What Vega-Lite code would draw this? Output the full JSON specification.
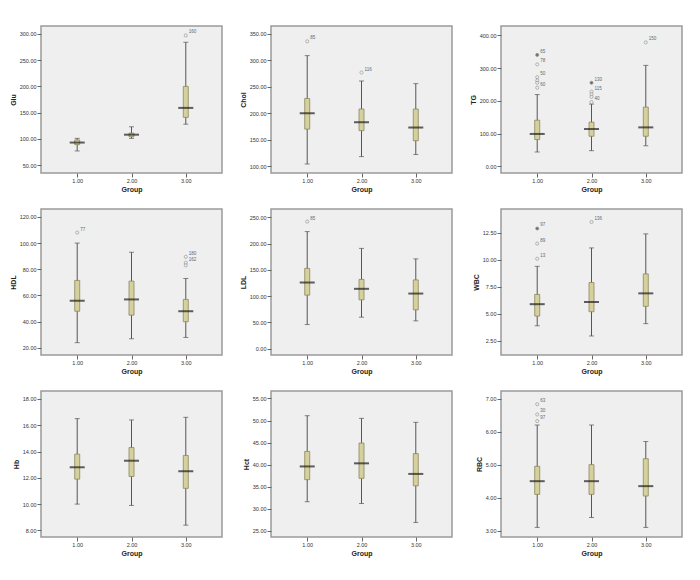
{
"$schema":"https://vega.github.io/schema/vega-lite/v6.json",
"padding":{"left":8,"top":25,"right":5,"bottom":5},
"background":"white",
"config":{"font":"Liberation Sans","view":{"stroke":"#9a9a9a","strokeWidth":1.5,"fill":"#efefef"},
"axis":{"labelFontSize":5.5,"labelColor":"#333","titleFontSize":7,"titleFontWeight":"bold","titleColor":"#222","tickColor":"#666","tickSize":4,"domain":false,"grid":false,"labelPadding":1,"titlePadding":3,"labelOverlap":false,"labelFlush":false,"labelBound":false,"tickCount":12},
"axisX":{"labelAngle":0,"titlePadding":2}},
"datasets":{
"s":[
{"v":"Glu","g":"1.00","lo":77,"q1":89,"med":93,"q3":98,"hi":101},
{"v":"Glu","g":"2.00","lo":101,"q1":104,"med":108,"q3":111,"hi":123},
{"v":"Glu","g":"3.00","lo":128,"q1":141,"med":159,"q3":200,"hi":284},
{"v":"Chol","g":"1.00","lo":104,"q1":170,"med":200,"q3":228,"hi":309},
{"v":"Chol","g":"2.00","lo":118,"q1":167,"med":183,"q3":208,"hi":261},
{"v":"Chol","g":"3.00","lo":122,"q1":148,"med":173,"q3":208,"hi":256},
{"v":"TG","g":"1.00","lo":44,"q1":82,"med":99,"q3":141,"hi":219},
{"v":"TG","g":"2.00","lo":48,"q1":92,"med":114,"q3":135,"hi":190},
{"v":"TG","g":"3.00","lo":63,"q1":92,"med":119,"q3":181,"hi":308},
{"v":"HDL","g":"1.00","lo":24,"q1":48,"med":56,"q3":71.5,"hi":100},
{"v":"HDL","g":"2.00","lo":27,"q1":45,"med":57,"q3":71,"hi":93},
{"v":"HDL","g":"3.00","lo":28,"q1":40,"med":48,"q3":57,"hi":73},
{"v":"LDL","g":"1.00","lo":46,"q1":102,"med":126,"q3":153,"hi":223},
{"v":"LDL","g":"2.00","lo":60,"q1":93,"med":114,"q3":132,"hi":191},
{"v":"LDL","g":"3.00","lo":53,"q1":74,"med":105,"q3":131,"hi":171},
{"v":"WBC","g":"1.00","lo":3.9,"q1":4.8,"med":5.9,"q3":6.8,"hi":9.4},
{"v":"WBC","g":"2.00","lo":2.96,"q1":5.2,"med":6.1,"q3":7.9,"hi":11.1},
{"v":"WBC","g":"3.00","lo":4.1,"q1":5.7,"med":6.9,"q3":8.7,"hi":12.4},
{"v":"Hb","g":"1.00","lo":10.0,"q1":11.9,"med":12.8,"q3":13.8,"hi":16.5},
{"v":"Hb","g":"2.00","lo":9.9,"q1":12.1,"med":13.3,"q3":14.3,"hi":16.4},
{"v":"Hb","g":"3.00","lo":8.4,"q1":11.2,"med":12.5,"q3":13.7,"hi":16.6},
{"v":"Hct","g":"1.00","lo":31.6,"q1":36.6,"med":39.6,"q3":43.0,"hi":51.1},
{"v":"Hct","g":"2.00","lo":31.2,"q1":36.9,"med":40.3,"q3":44.9,"hi":50.5},
{"v":"Hct","g":"3.00","lo":26.9,"q1":35.2,"med":37.9,"q3":42.5,"hi":49.6},
{"v":"RBC","g":"1.00","lo":3.1,"q1":4.1,"med":4.5,"q3":4.95,"hi":6.2},
{"v":"RBC","g":"2.00","lo":3.4,"q1":4.1,"med":4.5,"q3":5.0,"hi":6.2},
{"v":"RBC","g":"3.00","lo":3.1,"q1":4.05,"med":4.35,"q3":5.18,"hi":5.7}
],
"o":[
{"v":"Glu","g":"3.00","y":297,"lab":"160","e":0},
{"v":"Chol","g":"1.00","y":336,"lab":"85","e":0},
{"v":"Chol","g":"2.00","y":277,"lab":"116","e":0},
{"v":"TG","g":"1.00","y":340,"lab":"65","e":1},
{"v":"TG","g":"1.00","y":311,"lab":"78","e":0},
{"v":"TG","g":"1.00","y":272,"lab":"50","e":0},
{"v":"TG","g":"1.00","y":262,"lab":"","e":0},
{"v":"TG","g":"1.00","y":255,"lab":"","e":0},
{"v":"TG","g":"1.00","y":240,"lab":"60","e":0},
{"v":"TG","g":"2.00","y":255,"lab":"130","e":1},
{"v":"TG","g":"2.00","y":228,"lab":"115","e":0},
{"v":"TG","g":"2.00","y":220,"lab":"","e":0},
{"v":"TG","g":"2.00","y":212,"lab":"","e":0},
{"v":"TG","g":"2.00","y":196,"lab":"40","e":0},
{"v":"TG","g":"3.00","y":378,"lab":"150","e":0},
{"v":"HDL","g":"1.00","y":108,"lab":"77","e":0},
{"v":"HDL","g":"3.00","y":89.5,"lab":"180","e":0},
{"v":"HDL","g":"3.00","y":85,"lab":"162","e":0},
{"v":"HDL","g":"3.00","y":83,"lab":"","e":0},
{"v":"LDL","g":"1.00","y":242,"lab":"85","e":0},
{"v":"WBC","g":"1.00","y":12.9,"lab":"97","e":1},
{"v":"WBC","g":"1.00","y":11.5,"lab":"89","e":0},
{"v":"WBC","g":"1.00","y":10.1,"lab":"13","e":0},
{"v":"WBC","g":"2.00","y":13.5,"lab":"136","e":0},
{"v":"RBC","g":"1.00","y":6.83,"lab":"63","e":0},
{"v":"RBC","g":"1.00","y":6.52,"lab":"30","e":0},
{"v":"RBC","g":"1.00","y":6.32,"lab":"97","e":0}
]},
"columns":3,
"spacing":{"row":14,"column":15},
"concat":[
{"width":181,"height":147,"layer":[
{"data":{"name":"s"},"transform":[{"filter":"datum.v=='Glu'"}],"mark":{"type":"rule","color":"#555"},"encoding":{"x":{"field":"g","type":"ordinal","scale":{"type":"point","padding":0.667,"domain":["1.00","2.00","3.00"]},"title":"Group"},"y":{"field":"lo","type":"quantitative","scale":{"domain":[35,315],"nice":false,"zero":false},"axis":{"values":[50,100,150,200,250,300],"format":".2f","tickCount":12},"title":"Glu"},"y2":{"field":"hi"}}},
{"data":{"name":"s"},"transform":[{"filter":"datum.v=='Glu'"},{"fold":["lo","hi"],"as":["k","c"]}],"mark":{"type":"tick","size":5,"thickness":1,"color":"#555"},"encoding":{"x":{"field":"g","type":"ordinal","title":"Group"},"y":{"field":"c","type":"quantitative","title":"Glu"}}},
{"data":{"name":"s"},"transform":[{"filter":"datum.v=='Glu'"}],"mark":{"type":"bar","size":5,"fill":"#d6d09c","stroke":"#8a8760","strokeWidth":0.8},"encoding":{"x":{"field":"g","type":"ordinal","title":"Group"},"y":{"field":"q1","type":"quantitative","title":"Glu"},"y2":{"field":"q3"}}},
{"data":{"name":"s"},"transform":[{"filter":"datum.v=='Glu'"}],"mark":{"type":"tick","size":15,"thickness":2,"color":"#1e1e1e"},"encoding":{"x":{"field":"g","type":"ordinal","title":"Group"},"y":{"field":"med","type":"quantitative","title":"Glu"}}},
{"data":{"name":"o"},"transform":[{"filter":"datum.v=='Glu'"}],"mark":{"type":"point","shape":"circle","size":10,"filled":true,"stroke":"#777","strokeWidth":0.7},"encoding":{"x":{"field":"g","type":"ordinal","title":"Group"},"y":{"field":"y","type":"quantitative","title":"Glu"},"fill":{"condition":{"test":"datum.e==1","value":"#333"},"value":"#f0f0f0"}}},
{"data":{"name":"o"},"transform":[{"filter":"datum.v=='Glu'"}],"mark":{"type":"text","align":"left","dx":3,"dy":-3,"fontSize":4.5,"color":"#666"},"encoding":{"x":{"field":"g","type":"ordinal","title":"Group"},"y":{"field":"y","type":"quantitative","title":"Glu"},"text":{"field":"lab"}}}
]},
{"width":181,"height":147,"layer":[
{"data":{"name":"s"},"transform":[{"filter":"datum.v=='Chol'"}],"mark":{"type":"rule","color":"#555"},"encoding":{"x":{"field":"g","type":"ordinal","scale":{"type":"point","padding":0.667,"domain":["1.00","2.00","3.00"]},"title":"Group"},"y":{"field":"lo","type":"quantitative","scale":{"domain":[87,365],"nice":false,"zero":false},"axis":{"values":[100,150,200,250,300,350],"format":".2f","tickCount":12},"title":"Chol"},"y2":{"field":"hi"}}},
{"data":{"name":"s"},"transform":[{"filter":"datum.v=='Chol'"},{"fold":["lo","hi"],"as":["k","c"]}],"mark":{"type":"tick","size":5,"thickness":1,"color":"#555"},"encoding":{"x":{"field":"g","type":"ordinal","title":"Group"},"y":{"field":"c","type":"quantitative","title":"Chol"}}},
{"data":{"name":"s"},"transform":[{"filter":"datum.v=='Chol'"}],"mark":{"type":"bar","size":5,"fill":"#d6d09c","stroke":"#8a8760","strokeWidth":0.8},"encoding":{"x":{"field":"g","type":"ordinal","title":"Group"},"y":{"field":"q1","type":"quantitative","title":"Chol"},"y2":{"field":"q3"}}},
{"data":{"name":"s"},"transform":[{"filter":"datum.v=='Chol'"}],"mark":{"type":"tick","size":15,"thickness":2,"color":"#1e1e1e"},"encoding":{"x":{"field":"g","type":"ordinal","title":"Group"},"y":{"field":"med","type":"quantitative","title":"Chol"}}},
{"data":{"name":"o"},"transform":[{"filter":"datum.v=='Chol'"}],"mark":{"type":"point","shape":"circle","size":10,"filled":true,"stroke":"#777","strokeWidth":0.7},"encoding":{"x":{"field":"g","type":"ordinal","title":"Group"},"y":{"field":"y","type":"quantitative","title":"Chol"},"fill":{"condition":{"test":"datum.e==1","value":"#333"},"value":"#f0f0f0"}}},
{"data":{"name":"o"},"transform":[{"filter":"datum.v=='Chol'"}],"mark":{"type":"text","align":"left","dx":3,"dy":-3,"fontSize":4.5,"color":"#666"},"encoding":{"x":{"field":"g","type":"ordinal","title":"Group"},"y":{"field":"y","type":"quantitative","title":"Chol"},"text":{"field":"lab"}}}
]},
{"width":181,"height":147,"layer":[
{"data":{"name":"s"},"transform":[{"filter":"datum.v=='TG'"}],"mark":{"type":"rule","color":"#555"},"encoding":{"x":{"field":"g","type":"ordinal","scale":{"type":"point","padding":0.667,"domain":["1.00","2.00","3.00"]},"title":"Group"},"y":{"field":"lo","type":"quantitative","scale":{"domain":[-20,428],"nice":false,"zero":false},"axis":{"values":[0,100,200,300,400],"format":".2f","tickCount":12},"title":"TG"},"y2":{"field":"hi"}}},
{"data":{"name":"s"},"transform":[{"filter":"datum.v=='TG'"},{"fold":["lo","hi"],"as":["k","c"]}],"mark":{"type":"tick","size":5,"thickness":1,"color":"#555"},"encoding":{"x":{"field":"g","type":"ordinal","title":"Group"},"y":{"field":"c","type":"quantitative","title":"TG"}}},
{"data":{"name":"s"},"transform":[{"filter":"datum.v=='TG'"}],"mark":{"type":"bar","size":5,"fill":"#d6d09c","stroke":"#8a8760","strokeWidth":0.8},"encoding":{"x":{"field":"g","type":"ordinal","title":"Group"},"y":{"field":"q1","type":"quantitative","title":"TG"},"y2":{"field":"q3"}}},
{"data":{"name":"s"},"transform":[{"filter":"datum.v=='TG'"}],"mark":{"type":"tick","size":15,"thickness":2,"color":"#1e1e1e"},"encoding":{"x":{"field":"g","type":"ordinal","title":"Group"},"y":{"field":"med","type":"quantitative","title":"TG"}}},
{"data":{"name":"o"},"transform":[{"filter":"datum.v=='TG'"}],"mark":{"type":"point","shape":"circle","size":10,"filled":true,"stroke":"#777","strokeWidth":0.7},"encoding":{"x":{"field":"g","type":"ordinal","title":"Group"},"y":{"field":"y","type":"quantitative","title":"TG"},"fill":{"condition":{"test":"datum.e==1","value":"#333"},"value":"#f0f0f0"}}},
{"data":{"name":"o"},"transform":[{"filter":"datum.v=='TG'"}],"mark":{"type":"text","align":"left","dx":3,"dy":-3,"fontSize":4.5,"color":"#666"},"encoding":{"x":{"field":"g","type":"ordinal","title":"Group"},"y":{"field":"y","type":"quantitative","title":"TG"},"text":{"field":"lab"}}}
]},
{"width":181,"height":146,"layer":[
{"data":{"name":"s"},"transform":[{"filter":"datum.v=='HDL'"}],"mark":{"type":"rule","color":"#555"},"encoding":{"x":{"field":"g","type":"ordinal","scale":{"type":"point","padding":0.667,"domain":["1.00","2.00","3.00"]},"title":"Group"},"y":{"field":"lo","type":"quantitative","scale":{"domain":[14.6,126],"nice":false,"zero":false},"axis":{"values":[20,40,60,80,100,120],"format":".2f","tickCount":12},"title":"HDL"},"y2":{"field":"hi"}}},
{"data":{"name":"s"},"transform":[{"filter":"datum.v=='HDL'"},{"fold":["lo","hi"],"as":["k","c"]}],"mark":{"type":"tick","size":5,"thickness":1,"color":"#555"},"encoding":{"x":{"field":"g","type":"ordinal","title":"Group"},"y":{"field":"c","type":"quantitative","title":"HDL"}}},
{"data":{"name":"s"},"transform":[{"filter":"datum.v=='HDL'"}],"mark":{"type":"bar","size":5,"fill":"#d6d09c","stroke":"#8a8760","strokeWidth":0.8},"encoding":{"x":{"field":"g","type":"ordinal","title":"Group"},"y":{"field":"q1","type":"quantitative","title":"HDL"},"y2":{"field":"q3"}}},
{"data":{"name":"s"},"transform":[{"filter":"datum.v=='HDL'"}],"mark":{"type":"tick","size":15,"thickness":2,"color":"#1e1e1e"},"encoding":{"x":{"field":"g","type":"ordinal","title":"Group"},"y":{"field":"med","type":"quantitative","title":"HDL"}}},
{"data":{"name":"o"},"transform":[{"filter":"datum.v=='HDL'"}],"mark":{"type":"point","shape":"circle","size":10,"filled":true,"stroke":"#777","strokeWidth":0.7},"encoding":{"x":{"field":"g","type":"ordinal","title":"Group"},"y":{"field":"y","type":"quantitative","title":"HDL"},"fill":{"condition":{"test":"datum.e==1","value":"#333"},"value":"#f0f0f0"}}},
{"data":{"name":"o"},"transform":[{"filter":"datum.v=='HDL'"}],"mark":{"type":"text","align":"left","dx":3,"dy":-3,"fontSize":4.5,"color":"#666"},"encoding":{"x":{"field":"g","type":"ordinal","title":"Group"},"y":{"field":"y","type":"quantitative","title":"HDL"},"text":{"field":"lab"}}}
]},
{"width":181,"height":146,"layer":[
{"data":{"name":"s"},"transform":[{"filter":"datum.v=='LDL'"}],"mark":{"type":"rule","color":"#555"},"encoding":{"x":{"field":"g","type":"ordinal","scale":{"type":"point","padding":0.667,"domain":["1.00","2.00","3.00"]},"title":"Group"},"y":{"field":"lo","type":"quantitative","scale":{"domain":[-12,266],"nice":false,"zero":false},"axis":{"values":[0,50,100,150,200,250],"format":".2f","tickCount":12},"title":"LDL"},"y2":{"field":"hi"}}},
{"data":{"name":"s"},"transform":[{"filter":"datum.v=='LDL'"},{"fold":["lo","hi"],"as":["k","c"]}],"mark":{"type":"tick","size":5,"thickness":1,"color":"#555"},"encoding":{"x":{"field":"g","type":"ordinal","title":"Group"},"y":{"field":"c","type":"quantitative","title":"LDL"}}},
{"data":{"name":"s"},"transform":[{"filter":"datum.v=='LDL'"}],"mark":{"type":"bar","size":5,"fill":"#d6d09c","stroke":"#8a8760","strokeWidth":0.8},"encoding":{"x":{"field":"g","type":"ordinal","title":"Group"},"y":{"field":"q1","type":"quantitative","title":"LDL"},"y2":{"field":"q3"}}},
{"data":{"name":"s"},"transform":[{"filter":"datum.v=='LDL'"}],"mark":{"type":"tick","size":15,"thickness":2,"color":"#1e1e1e"},"encoding":{"x":{"field":"g","type":"ordinal","title":"Group"},"y":{"field":"med","type":"quantitative","title":"LDL"}}},
{"data":{"name":"o"},"transform":[{"filter":"datum.v=='LDL'"}],"mark":{"type":"point","shape":"circle","size":10,"filled":true,"stroke":"#777","strokeWidth":0.7},"encoding":{"x":{"field":"g","type":"ordinal","title":"Group"},"y":{"field":"y","type":"quantitative","title":"LDL"},"fill":{"condition":{"test":"datum.e==1","value":"#333"},"value":"#f0f0f0"}}},
{"data":{"name":"o"},"transform":[{"filter":"datum.v=='LDL'"}],"mark":{"type":"text","align":"left","dx":3,"dy":-3,"fontSize":4.5,"color":"#666"},"encoding":{"x":{"field":"g","type":"ordinal","title":"Group"},"y":{"field":"y","type":"quantitative","title":"LDL"},"text":{"field":"lab"}}}
]},
{"width":181,"height":146,"layer":[
{"data":{"name":"s"},"transform":[{"filter":"datum.v=='WBC'"}],"mark":{"type":"rule","color":"#555"},"encoding":{"x":{"field":"g","type":"ordinal","scale":{"type":"point","padding":0.667,"domain":["1.00","2.00","3.00"]},"title":"Group"},"y":{"field":"lo","type":"quantitative","scale":{"domain":[1.2,14.7],"nice":false,"zero":false},"axis":{"values":[2.5,5,7.5,10,12.5],"format":".2f","tickCount":12},"title":"WBC"},"y2":{"field":"hi"}}},
{"data":{"name":"s"},"transform":[{"filter":"datum.v=='WBC'"},{"fold":["lo","hi"],"as":["k","c"]}],"mark":{"type":"tick","size":5,"thickness":1,"color":"#555"},"encoding":{"x":{"field":"g","type":"ordinal","title":"Group"},"y":{"field":"c","type":"quantitative","title":"WBC"}}},
{"data":{"name":"s"},"transform":[{"filter":"datum.v=='WBC'"}],"mark":{"type":"bar","size":5,"fill":"#d6d09c","stroke":"#8a8760","strokeWidth":0.8},"encoding":{"x":{"field":"g","type":"ordinal","title":"Group"},"y":{"field":"q1","type":"quantitative","title":"WBC"},"y2":{"field":"q3"}}},
{"data":{"name":"s"},"transform":[{"filter":"datum.v=='WBC'"}],"mark":{"type":"tick","size":15,"thickness":2,"color":"#1e1e1e"},"encoding":{"x":{"field":"g","type":"ordinal","title":"Group"},"y":{"field":"med","type":"quantitative","title":"WBC"}}},
{"data":{"name":"o"},"transform":[{"filter":"datum.v=='WBC'"}],"mark":{"type":"point","shape":"circle","size":10,"filled":true,"stroke":"#777","strokeWidth":0.7},"encoding":{"x":{"field":"g","type":"ordinal","title":"Group"},"y":{"field":"y","type":"quantitative","title":"WBC"},"fill":{"condition":{"test":"datum.e==1","value":"#333"},"value":"#f0f0f0"}}},
{"data":{"name":"o"},"transform":[{"filter":"datum.v=='WBC'"}],"mark":{"type":"text","align":"left","dx":3,"dy":-3,"fontSize":4.5,"color":"#666"},"encoding":{"x":{"field":"g","type":"ordinal","title":"Group"},"y":{"field":"y","type":"quantitative","title":"WBC"},"text":{"field":"lab"}}}
]},
{"width":181,"height":146,"layer":[
{"data":{"name":"s"},"transform":[{"filter":"datum.v=='Hb'"}],"mark":{"type":"rule","color":"#555"},"encoding":{"x":{"field":"g","type":"ordinal","scale":{"type":"point","padding":0.667,"domain":["1.00","2.00","3.00"]},"title":"Group"},"y":{"field":"lo","type":"quantitative","scale":{"domain":[7.5,18.6],"nice":false,"zero":false},"axis":{"values":[8,10,12,14,16,18],"format":".2f","tickCount":12},"title":"Hb"},"y2":{"field":"hi"}}},
{"data":{"name":"s"},"transform":[{"filter":"datum.v=='Hb'"},{"fold":["lo","hi"],"as":["k","c"]}],"mark":{"type":"tick","size":5,"thickness":1,"color":"#555"},"encoding":{"x":{"field":"g","type":"ordinal","title":"Group"},"y":{"field":"c","type":"quantitative","title":"Hb"}}},
{"data":{"name":"s"},"transform":[{"filter":"datum.v=='Hb'"}],"mark":{"type":"bar","size":5,"fill":"#d6d09c","stroke":"#8a8760","strokeWidth":0.8},"encoding":{"x":{"field":"g","type":"ordinal","title":"Group"},"y":{"field":"q1","type":"quantitative","title":"Hb"},"y2":{"field":"q3"}}},
{"data":{"name":"s"},"transform":[{"filter":"datum.v=='Hb'"}],"mark":{"type":"tick","size":15,"thickness":2,"color":"#1e1e1e"},"encoding":{"x":{"field":"g","type":"ordinal","title":"Group"},"y":{"field":"med","type":"quantitative","title":"Hb"}}}
]},
{"width":181,"height":146,"layer":[
{"data":{"name":"s"},"transform":[{"filter":"datum.v=='Hct'"}],"mark":{"type":"rule","color":"#555"},"encoding":{"x":{"field":"g","type":"ordinal","scale":{"type":"point","padding":0.667,"domain":["1.00","2.00","3.00"]},"title":"Group"},"y":{"field":"lo","type":"quantitative","scale":{"domain":[23.6,56.7],"nice":false,"zero":false},"axis":{"values":[25,30,35,40,45,50,55],"format":".2f","tickCount":12},"title":"Hct"},"y2":{"field":"hi"}}},
{"data":{"name":"s"},"transform":[{"filter":"datum.v=='Hct'"},{"fold":["lo","hi"],"as":["k","c"]}],"mark":{"type":"tick","size":5,"thickness":1,"color":"#555"},"encoding":{"x":{"field":"g","type":"ordinal","title":"Group"},"y":{"field":"c","type":"quantitative","title":"Hct"}}},
{"data":{"name":"s"},"transform":[{"filter":"datum.v=='Hct'"}],"mark":{"type":"bar","size":5,"fill":"#d6d09c","stroke":"#8a8760","strokeWidth":0.8},"encoding":{"x":{"field":"g","type":"ordinal","title":"Group"},"y":{"field":"q1","type":"quantitative","title":"Hct"},"y2":{"field":"q3"}}},
{"data":{"name":"s"},"transform":[{"filter":"datum.v=='Hct'"}],"mark":{"type":"tick","size":15,"thickness":2,"color":"#1e1e1e"},"encoding":{"x":{"field":"g","type":"ordinal","title":"Group"},"y":{"field":"med","type":"quantitative","title":"Hct"}}}
]},
{"width":181,"height":146,"layer":[
{"data":{"name":"s"},"transform":[{"filter":"datum.v=='RBC'"}],"mark":{"type":"rule","color":"#555"},"encoding":{"x":{"field":"g","type":"ordinal","scale":{"type":"point","padding":0.667,"domain":["1.00","2.00","3.00"]},"title":"Group"},"y":{"field":"lo","type":"quantitative","scale":{"domain":[2.81,7.23],"nice":false,"zero":false},"axis":{"values":[3,4,5,6,7],"format":".2f","tickCount":12},"title":"RBC"},"y2":{"field":"hi"}}},
{"data":{"name":"s"},"transform":[{"filter":"datum.v=='RBC'"},{"fold":["lo","hi"],"as":["k","c"]}],"mark":{"type":"tick","size":5,"thickness":1,"color":"#555"},"encoding":{"x":{"field":"g","type":"ordinal","title":"Group"},"y":{"field":"c","type":"quantitative","title":"RBC"}}},
{"data":{"name":"s"},"transform":[{"filter":"datum.v=='RBC'"}],"mark":{"type":"bar","size":5,"fill":"#d6d09c","stroke":"#8a8760","strokeWidth":0.8},"encoding":{"x":{"field":"g","type":"ordinal","title":"Group"},"y":{"field":"q1","type":"quantitative","title":"RBC"},"y2":{"field":"q3"}}},
{"data":{"name":"s"},"transform":[{"filter":"datum.v=='RBC'"}],"mark":{"type":"tick","size":15,"thickness":2,"color":"#1e1e1e"},"encoding":{"x":{"field":"g","type":"ordinal","title":"Group"},"y":{"field":"med","type":"quantitative","title":"RBC"}}},
{"data":{"name":"o"},"transform":[{"filter":"datum.v=='RBC'"}],"mark":{"type":"point","shape":"circle","size":10,"filled":true,"stroke":"#777","strokeWidth":0.7},"encoding":{"x":{"field":"g","type":"ordinal","title":"Group"},"y":{"field":"y","type":"quantitative","title":"RBC"},"fill":{"condition":{"test":"datum.e==1","value":"#333"},"value":"#f0f0f0"}}},
{"data":{"name":"o"},"transform":[{"filter":"datum.v=='RBC'"}],"mark":{"type":"text","align":"left","dx":3,"dy":-3,"fontSize":4.5,"color":"#666"},"encoding":{"x":{"field":"g","type":"ordinal","title":"Group"},"y":{"field":"y","type":"quantitative","title":"RBC"},"text":{"field":"lab"}}}
]}
]
}
